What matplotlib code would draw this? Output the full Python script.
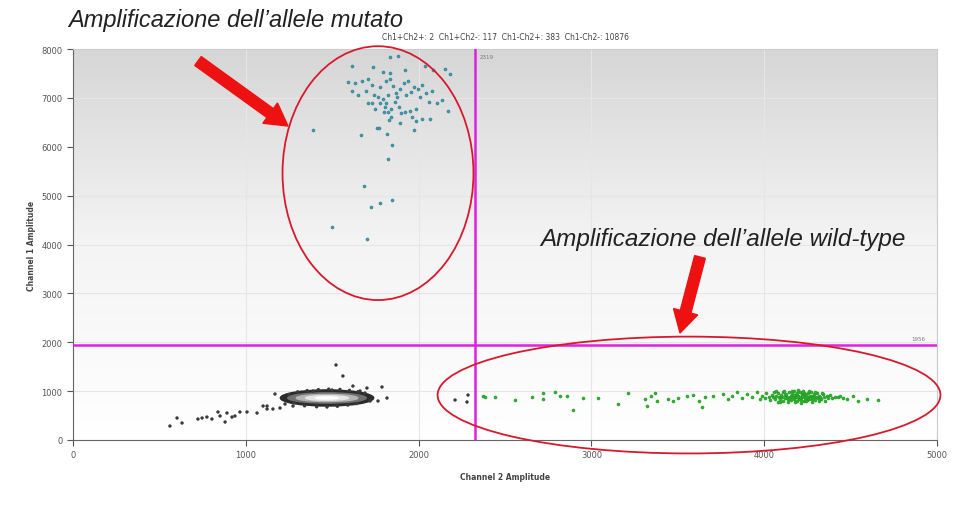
import matplotlib
matplotlib.use("Agg")
import matplotlib.pyplot as plt
import numpy as np
from matplotlib.patches import Ellipse, FancyArrow
from matplotlib.transforms import IdentityTransform

# thresholds
thr_ch2 = 2326
thr_ch1 = 1950

# Ch1+ droplets (blue, mutated allele)
blue_x = [1834, 1881, 1615, 1736, 1921, 1794, 1834, 2037, 2083, 1591, 1632, 1672, 1707, 1730,
          1696, 1615, 1777, 1811, 1834, 1852, 1823, 1794, 1765, 1869, 1892, 1915, 1939, 1927,
          1956, 1973, 1997, 2020, 2008, 2043, 2078, 2060, 2106, 1863, 1887, 1840, 1811, 1777,
          1742, 1730, 1898, 1921, 1950, 1962, 1985, 1840, 1823, 1800, 1875, 1806, 1985, 2020,
          2066, 1829, 2135, 2170, 1892, 1707, 1748, 1649, 2182, 2153,
          1389, 1667, 1759, 1771, 1817, 1973, 1846, 1823, 1684, 1846, 1777, 1725, 1499, 1701]
blue_y = [7832, 7853, 7648, 7628, 7567, 7526, 7505, 7648, 7567, 7321, 7301, 7342, 7382, 7260,
          7137, 7137, 7219, 7342, 7382, 7239, 7055, 6973, 7014, 7096, 7178, 7301, 7342, 7055,
          7117, 7219, 7178, 7260, 7014, 7096, 7137, 6912, 6892, 6912, 6810, 6769, 6892, 6892,
          7055, 6892, 6687, 6708, 6728, 6605, 6769, 6605, 6708, 6708, 7014, 6810, 6524, 6564,
          6564, 6544, 6953, 6728, 6483, 6892, 6769, 7055, 7485, 7587,
          6340, 6237, 6380, 6380, 6258, 6340, 6033, 5746, 5194, 4908, 4847, 4765, 4356, 4110]

# double negative droplets (gray/black)
neg_x = [561, 602, 631, 723, 747, 775, 804, 839, 851, 880, 891, 920, 937, 966, 1007, 1065,
         1100, 1123, 1123, 1157, 1169, 1198, 1227, 1273, 1389, 1499, 1522, 1562, 1620, 1701,
         1788, 1817, 1765, 1719, 1661, 2211, 2286, 2280, 1250, 1300, 1355, 1420, 1480, 1545,
         1600, 1650, 1690, 1280, 1340, 1410, 1470, 1530, 1590, 1640]
neg_y = [286, 450, 348, 429, 450, 470, 429, 573, 491, 368, 552, 470, 491, 573, 573, 552,
         695, 634, 695, 634, 941, 654, 736, 695, 1002, 1023, 1534, 1309, 1104, 1063,
         1084, 859, 798, 798, 1002, 818, 920, 777, 930, 985, 1010, 1030, 1040, 1035,
         1015, 990, 960, 760, 700, 680, 675, 690, 715, 745]

# dense core of the double negative cloud
core_x, core_y = 1470, 860
core_w, core_h = 540, 330

# Ch2+ droplets (green, wild-type allele)
green_x = [2373, 2384, 2442, 2558, 2656, 2720, 2720, 2789, 2818, 2859, 2894, 2951, 3038, 3154,
           3212, 3310, 3322, 3345, 3368, 3380, 3443, 3472, 3501, 3553, 3588, 3623, 3640, 3657,
           3704, 3762, 3790, 3814, 3843, 3872, 3900, 3929, 3958, 3976, 4479, 4514, 4543, 4595,
           4659,
           3988, 4004, 4013, 4027, 4031, 4046, 4049, 4058, 4063, 4071, 4077, 4082, 4088, 4094,
           4097, 4103, 4109, 4111, 4118, 4124, 4127, 4133, 4139, 4142, 4148, 4153, 4156, 4161,
           4166, 4170, 4174, 4179, 4183, 4187, 4191, 4194, 4198, 4202, 4205, 4209, 4213, 4216,
           4219, 4224, 4228, 4231, 4236, 4239, 4243, 4247, 4252, 4256, 4259, 4264, 4268, 4272,
           4277, 4281, 4286, 4290, 4296, 4301, 4307, 4312, 4318, 4324, 4331, 4338, 4346, 4353,
           4362, 4371, 4382, 4394, 4409, 4425, 4441, 4458, 4068, 4092, 4115, 4137, 4158, 4177,
           4196, 4211, 4226, 4241, 4258, 4274, 4293, 4315, 4336, 4120, 4171, 4222, 4266, 4188]
green_y = [900, 879, 879, 818, 879, 961, 838, 982, 900, 900, 614, 859, 859, 736,
           961, 838, 695, 900, 961, 798, 838, 798, 859, 900, 920, 798, 675, 879,
           900, 941, 838, 900, 982, 859, 941, 879, 982, 838, 838, 900, 798, 838,
           818,
           905, 850, 960, 880, 820, 930, 870, 990, 845, 905, 780, 955, 880, 835,
           925, 870, 990, 805, 915, 860, 945, 890, 830, 975, 880, 910, 815, 950,
           870, 1000, 845, 920, 885, 790, 960, 870, 905, 840, 985, 890, 825, 940,
           875, 915, 800, 965, 860, 895, 935, 820, 880, 955, 845, 910, 870, 990,
           830, 905, 875, 940, 815, 885, 960, 850, 905, 870, 830, 935, 880, 795,
           910, 860, 925, 850, 890, 870, 905, 860, 1005, 770, 1010, 780, 1000, 775,
           1015, 765, 995, 790, 1005, 785, 980, 800, 960, 850, 930, 900, 855, 880]

x_ticks = [0, 1000, 2000, 3000, 4000, 5000]
y_ticks = [0, 1000, 2000, 3000, 4000, 5000, 6000, 7000, 8000]

counts_text = "Ch1+Ch2+: 2  Ch1+Ch2-: 117  Ch1-Ch2+: 383  Ch1-Ch2-: 10876"
title_mut = "Amplificazione dell\u2019allele mutato"
title_wt = "Amplificazione dell\u2019allele wild-type"

fig = plt.figure(figsize=(9.68, 5.10), dpi=100)
ax = fig.add_axes([73 / 968, 69 / 510, 864 / 968, 391 / 510])

# gray-to-white background
grad = np.linspace(0, 1, 256).reshape(-1, 1)
ax.imshow(grad, cmap=plt.matplotlib.colors.LinearSegmentedColormap.from_list(
    "bg", ["#ffffff", "#f4f4f4", "#d6d6d6"]), extent=[0, 5000, 0, 8000], aspect="auto",
    origin="lower", zorder=0)

ax.set_xlim(0, 5000)
ax.set_ylim(0, 8000)
ax.set_xticks(x_ticks)
ax.set_yticks(y_ticks)
ax.grid(True, color="#e6e6e6", lw=0.8, zorder=1)
ax.tick_params(labelsize=6, colors="#555555", length=4, width=0.8)
for s in ["top", "right"]:
    ax.spines[s].set_color("#cccccc")
for s in ["left", "bottom"]:
    ax.spines[s].set_color("#666666")

ax.set_xlabel("Channel 2 Amplitude", fontsize=5.5, fontweight="bold", color="#444444", labelpad=9)
ax.set_ylabel("Channel 1 Amplitude", fontsize=5.5, fontweight="bold", color="#444444", labelpad=4)

# density cloud
for w, h, c in [(1.0, 1.0, "#2b2b2b"), (0.84, 0.64, "#707070"), (0.66, 0.44, "#b5b5b5"),
                (0.46, 0.28, "#e6e6e6"), (0.24, 0.13, "#ffffff")]:
    ax.add_patch(Ellipse((core_x, core_y), core_w * w, core_h * h, color=c, zorder=2))

ax.scatter(neg_x, neg_y, s=6, c="#3a3a3a", edgecolors="none", zorder=3)
ax.scatter(blue_x, blue_y, s=5, c="#3b9bb3", edgecolors="#2a6f80", linewidths=0.3, zorder=3)
ax.scatter(green_x, green_y, s=5, c="#2db52d", edgecolors="#1c8a1c", linewidths=0.3, zorder=3)

ax.axvline(thr_ch2, color="#e020e0", lw=1.8, zorder=4)
ax.axhline(thr_ch1, color="#e020e0", lw=1.8, zorder=4)
ax.text(thr_ch2 + 30, 7850, "2319", fontsize=4, color="#777777", va="center")
ax.text(4930, thr_ch1 + 130, "1956", fontsize=4, color="#777777", ha="right", va="center")

ax.text(0.5, 1.02, counts_text, transform=ax.transAxes, ha="center", va="bottom",
        fontsize=5.5, color="#444444")

# red annotation ellipses (data units, not clipped)
ax.add_patch(Ellipse((1765, 5460), 1105, 5194, fill=False, ec="#d8192c", lw=1.3,
                     clip_on=False, zorder=5))
ax.add_patch(Ellipse((3565, 920), 2910, 2390, fill=False, ec="#d8192c", lw=1.3,
                     clip_on=False, zorder=5))

# red arrows (pixel coordinates, y up)
for x0, y0, x1, y1 in [(198, 510 - 62, 288, 510 - 127), (700, 510 - 258, 680, 510 - 334)]:
    fig.add_artist(FancyArrow(x0, y0, x1 - x0, y1 - y0, width=11, head_width=25,
                              head_length=22, length_includes_head=True, color="#ee1111",
                              transform=IdentityTransform()))

fig.text(68 / 968, 1 - 20 / 510, title_mut, fontsize=17, style="italic",
         family="Liberation Sans", va="center", ha="left", color="#222222")
fig.text(540 / 968, 1 - 240 / 510, title_wt, fontsize=17.5, style="italic",
         family="Liberation Sans", va="center", ha="left", color="#222222")

fig.savefig("out.png", dpi=100)
